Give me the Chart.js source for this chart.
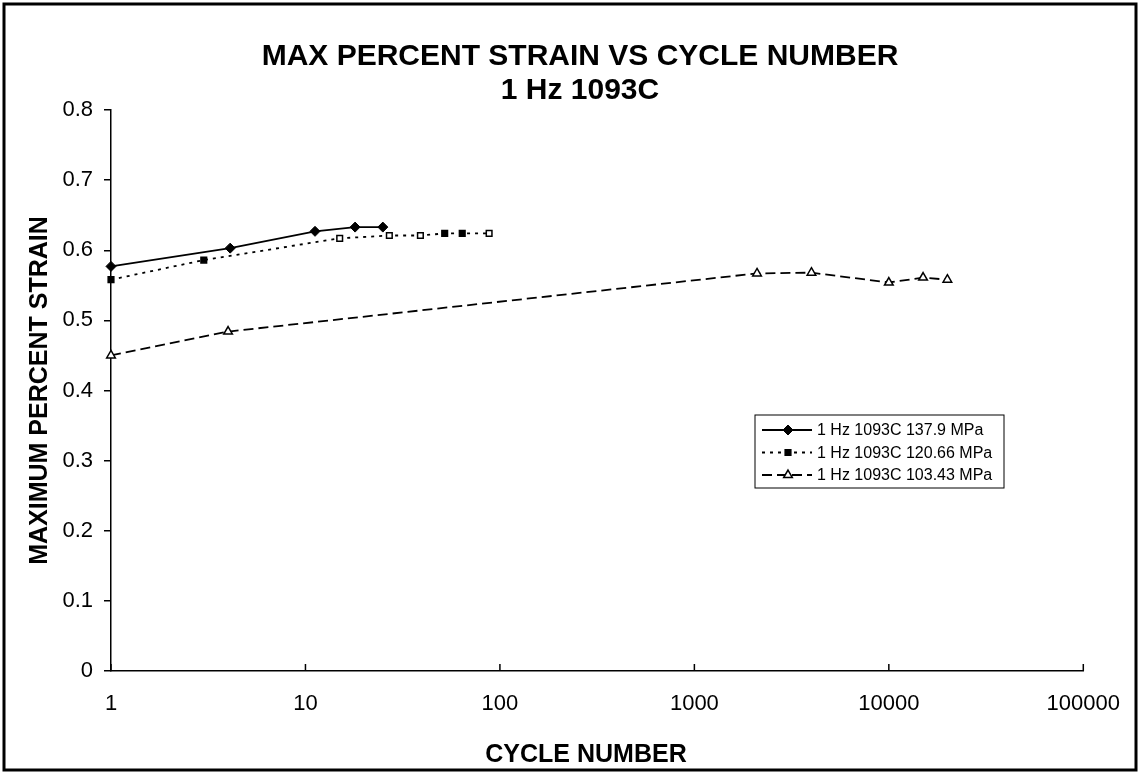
<!DOCTYPE html>
<html>
<head>
<meta charset="utf-8">
<title>Max Percent Strain vs Cycle Number</title>
<script src="https://cdn.jsdelivr.net/npm/chart.js@4.4.1/dist/chart.umd.min.js"></script>
<style>
  html, body { margin: 0; padding: 0; background: #fff; }
  canvas { display: block; }
</style>
</head>
<body>
<canvas id="strainChart" width="1140" height="774"></canvas>
<script>
const seriesLabels = ["1 Hz 1093C 137.9 MPa", "1 Hz 1093C 120.66 MPa", "1 Hz 1093C 103.43 MPa"];

// 137.9 MPa run
const cycles137 = [1, 4.1, 11.2, 18, 25];
const strain137 = [0.577, 0.603, 0.627, 0.633, 0.633];

// 120.66 MPa run
const cycles120 = [1, 3, 15, 27, 39, 52, 64, 88];
const strain120 = [0.558, 0.586, 0.617, 0.621, 0.621, 0.624, 0.624, 0.624];

// 103.43 MPa run
const cycles103 = [1, 4, 2100, 4000, 10000, 15000, 20000];
const strain103 = [0.45, 0.484, 0.567, 0.568, 0.554, 0.561, 0.558];

const xTicks = [1, 10, 100, 1000, 10000, 100000];
const yTicks = [0, 0.1, 0.2, 0.3, 0.4, 0.5, 0.6, 0.7, 0.8];

const FONT = "'Liberation Sans', Arial, sans-serif";

function toPoints(xs, ys) {
  return xs.map((x, i) => ({ x: x, y: ys[i] }));
}

/* TITLES, FRAME, INWARD X TICKS, LEGEND BOX */
const decorPlugin = {
  id: "decor",
  afterDraw(chart) {
    const ctx = chart.ctx;
    const area = chart.chartArea;
    const xs = chart.scales.x;
    const midY = (area.top + area.bottom) / 2;

    ctx.save();
    ctx.strokeStyle = "#000";
    ctx.fillStyle = "#000";

    // outer frame
    ctx.lineWidth = 3;
    ctx.strokeRect(4, 4, 1132, 766);

    // x ticks point up into the plot
    ctx.lineWidth = 1.5;
    xs.ticks.forEach(t => {
      const px = xs.getPixelForValue(t.value);
      ctx.beginPath();
      ctx.moveTo(px, area.bottom);
      ctx.lineTo(px, area.bottom - 7);
      ctx.stroke();
    });

    // chart title
    ctx.textAlign = "center";
    ctx.textBaseline = "middle";
    ctx.font = "bold 30px " + FONT;
    ctx.fillText("MAX PERCENT STRAIN VS CYCLE NUMBER", 580, 57);
    ctx.fillText("1 Hz 1093C", 580, 91);

    // axis titles
    ctx.font = "bold 25px " + FONT;
    ctx.fillText("CYCLE NUMBER", 586, 755);
    ctx.save();
    ctx.translate(40, midY);
    ctx.rotate(-Math.PI / 2);
    ctx.fillText("MAXIMUM PERCENT STRAIN", 0, 0);
    ctx.restore();

    // legend
    const box = { left: 755, top: 415, width: 249, height: 73 };
    ctx.lineWidth = 1;
    ctx.strokeRect(box.left, box.top, box.width, box.height);

    chart.data.datasets.forEach((ds, i) => {
      const y = box.top + 15 + i * 22.5;
      ctx.strokeStyle = "#000";
      ctx.lineWidth = ds.borderWidth;
      ctx.setLineDash(ds.borderDash || []);
      ctx.beginPath();
      ctx.moveTo(box.left + 7, y);
      ctx.lineTo(box.left + 57, y);
      ctx.stroke();
      ctx.setLineDash([]);

      ctx.fillStyle = ds.legendFill;
      ctx.lineWidth = ds.pointBorderWidth;
      Chart.helpers.drawPoint(ctx, {
        pointStyle: ds.pointStyle,
        radius: ds.pointRadius,
        rotation: 0,
        borderWidth: ds.pointBorderWidth
      }, box.left + 33, y);

      ctx.fillStyle = "#000";
      ctx.textAlign = "left";
      ctx.font = "16px " + FONT;
      ctx.fillText(ds.label, box.left + 62, y + 1);
    });

    ctx.restore();
  }
};

new Chart(document.getElementById("strainChart"), {
  type: "line",
  data: {
    datasets: [
      {
        label: seriesLabels[0],
        data: toPoints(cycles137, strain137),
        borderColor: "#000",
        borderWidth: 1.8,
        pointStyle: "rectRot",
        pointRadius: 5,
        pointBackgroundColor: "#000",
        pointBorderColor: "#000",
        pointBorderWidth: 1,
        legendFill: "#000",
        tension: 0,
        clip: false
      },
      {
        label: seriesLabels[1],
        data: toPoints(cycles120, strain120),
        borderColor: "#000",
        borderWidth: 1.8,
        borderDash: [3, 5],
        pointStyle: "rect",
        pointRadius: 4,
        pointBackgroundColor: ["#000", "#000", "#fff", "#fff", "#fff", "#000", "#000", "#fff"],
        pointBorderColor: "#000",
        pointBorderWidth: 1.5,
        legendFill: "#000",
        tension: 0,
        clip: false
      },
      {
        label: seriesLabels[2],
        data: toPoints(cycles103, strain103),
        borderColor: "#000",
        borderWidth: 1.8,
        borderDash: [10, 5],
        pointStyle: "triangle",
        pointRadius: 5,
        pointBackgroundColor: "#fff",
        pointBorderColor: "#000",
        pointBorderWidth: 1.5,
        legendFill: "#fff",
        tension: 0,
        clip: false
      }
    ]
  },
  options: {
    responsive: false,
    animation: false,
    layout: { padding: { top: 110, right: 50, left: 0, bottom: 0 } },
    plugins: {
      legend: { display: false },
      title: { display: false },
      tooltip: { enabled: false }
    },
    scales: {
      x: {
        type: "logarithmic",
        min: 1,
        max: 100000,
        afterBuildTicks: s => { s.ticks = xTicks.map(v => ({ value: v })); },
        afterFit: s => { s.height = 103; },
        grid: { display: false, drawTicks: false },
        border: { display: true, color: "#000", width: 1.5 },
        ticks: {
          color: "#000",
          font: { family: FONT, size: 22 },
          padding: 20,
          maxRotation: 0,
          autoSkip: false,
          callback: v => String(v)
        }
      },
      y: {
        min: 0,
        max: 0.8,
        afterBuildTicks: s => { s.ticks = yTicks.map(v => ({ value: v })); },
        afterFit: s => { s.width = 111; },
        grid: { drawOnChartArea: false, drawTicks: true, tickLength: 7, color: "#000", lineWidth: 1.5 },
        border: { color: "#000", width: 1.5 },
        ticks: {
          color: "#000",
          font: { family: FONT, size: 22 },
          padding: 11,
          callback: v => (v === 0 ? "0" : v.toFixed(1))
        }
      }
    }
  },
  plugins: [decorPlugin]
});
</script>
</body>
</html>
